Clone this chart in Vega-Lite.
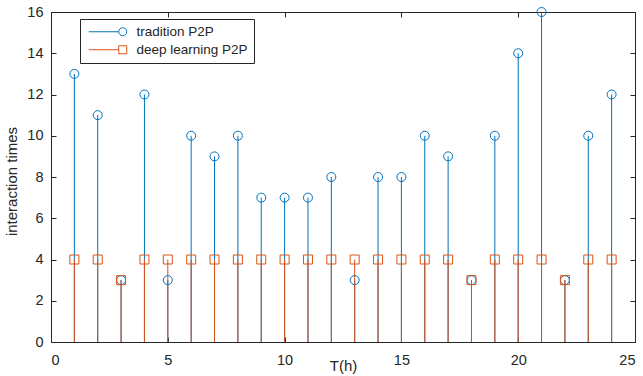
{
  "$schema": "https://vega.github.io/schema/vega-lite/v6.json",
  "width": 584,
  "height": 330,
  "autosize": {"type": "none"},
  "padding": {"left": 51, "top": 12, "right": 8, "bottom": 34},
  "background": "white",
  "config": {
    "view": {"stroke": "#262626", "strokeWidth": 1},
    "axis": {
      "grid": false,
      "domain": false,
      "offset": -5,
      "tickColor": "#262626",
      "tickSize": 5,
      "labelFont": "Liberation Sans",
      "labelFontSize": 14.5,
      "labelColor": "#262626",
      "titleFont": "Liberation Sans",
      "titleFontSize": 15,
      "titleFontWeight": "normal",
      "titleColor": "#262626"
    },
    "legend": {
      "labelFont": "Liberation Sans",
      "labelFontSize": 13.5,
      "labelColor": "#262626"
    }
  },
  "data": {
    "values": [
      {"t": 1, "series": "tradition P2P", "v": 13},
      {"t": 2, "series": "tradition P2P", "v": 11},
      {"t": 3, "series": "tradition P2P", "v": 3},
      {"t": 4, "series": "tradition P2P", "v": 12},
      {"t": 5, "series": "tradition P2P", "v": 3},
      {"t": 6, "series": "tradition P2P", "v": 10},
      {"t": 7, "series": "tradition P2P", "v": 9},
      {"t": 8, "series": "tradition P2P", "v": 10},
      {"t": 9, "series": "tradition P2P", "v": 7},
      {"t": 10, "series": "tradition P2P", "v": 7},
      {"t": 11, "series": "tradition P2P", "v": 7},
      {"t": 12, "series": "tradition P2P", "v": 8},
      {"t": 13, "series": "tradition P2P", "v": 3},
      {"t": 14, "series": "tradition P2P", "v": 8},
      {"t": 15, "series": "tradition P2P", "v": 8},
      {"t": 16, "series": "tradition P2P", "v": 10},
      {"t": 17, "series": "tradition P2P", "v": 9},
      {"t": 18, "series": "tradition P2P", "v": 3},
      {"t": 19, "series": "tradition P2P", "v": 10},
      {"t": 20, "series": "tradition P2P", "v": 14},
      {"t": 21, "series": "tradition P2P", "v": 16},
      {"t": 22, "series": "tradition P2P", "v": 3},
      {"t": 23, "series": "tradition P2P", "v": 10},
      {"t": 24, "series": "tradition P2P", "v": 12},
      {"t": 1, "series": "deep learning P2P", "v": 4},
      {"t": 2, "series": "deep learning P2P", "v": 4},
      {"t": 3, "series": "deep learning P2P", "v": 3},
      {"t": 4, "series": "deep learning P2P", "v": 4},
      {"t": 5, "series": "deep learning P2P", "v": 4},
      {"t": 6, "series": "deep learning P2P", "v": 4},
      {"t": 7, "series": "deep learning P2P", "v": 4},
      {"t": 8, "series": "deep learning P2P", "v": 4},
      {"t": 9, "series": "deep learning P2P", "v": 4},
      {"t": 10, "series": "deep learning P2P", "v": 4},
      {"t": 11, "series": "deep learning P2P", "v": 4},
      {"t": 12, "series": "deep learning P2P", "v": 4},
      {"t": 13, "series": "deep learning P2P", "v": 4},
      {"t": 14, "series": "deep learning P2P", "v": 4},
      {"t": 15, "series": "deep learning P2P", "v": 4},
      {"t": 16, "series": "deep learning P2P", "v": 4},
      {"t": 17, "series": "deep learning P2P", "v": 4},
      {"t": 18, "series": "deep learning P2P", "v": 3},
      {"t": 19, "series": "deep learning P2P", "v": 4},
      {"t": 20, "series": "deep learning P2P", "v": 4},
      {"t": 21, "series": "deep learning P2P", "v": 4},
      {"t": 22, "series": "deep learning P2P", "v": 3},
      {"t": 23, "series": "deep learning P2P", "v": 4},
      {"t": 24, "series": "deep learning P2P", "v": 4}
    ]
  },
  "layer": [
    {
      "mark": {"type": "rule", "strokeWidth": 1},
      "encoding": {
        "x": {
          "field": "t", "type": "quantitative",
          "scale": {"domain": [0, 25], "nice": false},
          "axis": {"orient": "bottom", "values": [0, 5, 10, 15, 20, 25], "title": "T(h)", "labelPadding": 11, "titleY": 21}
        },
        "y": {
          "field": "v", "type": "quantitative",
          "scale": {"domain": [0, 16], "nice": false},
          "axis": {"orient": "left", "values": [0, 2, 4, 6, 8, 10, 12, 14, 16], "title": "interaction times", "labelPadding": 8, "titlePadding": 7, "titleY": 169}
        },
        "y2": {"datum": 0},
        "color": {
          "field": "series", "type": "nominal",
          "scale": {"domain": ["tradition P2P", "deep learning P2P"], "range": ["#0072BD", "#D95319"]},
          "legend": {
            "title": null,
            "orient": "none",
            "legendX": 29,
            "legendY": 7,
            "padding": 6,
            "strokeColor": "#262626",
            "fillColor": "white",
            "symbolSize": 64,
            "symbolStrokeWidth": 1,
            "symbolFillColor": "transparent",
            "labelOffset": 37,
            "rowPadding": 3,
            "encode": {
              "symbols": {
                "update": {
                  "shape": {"signal": "datum.value == 'tradition P2P' ? 'M-1,0H6.5M8.5,0A1,1 0 1,1 6.5,0A1,1 0 1,1 8.5,0' : 'M-1,0H6.5M6.5,-1H8.5V1H6.5Z'"}
                }
              }
            }
          }
        }
      }
    },
    {
      "transform": [{"filter": "datum.series == 'tradition P2P'"}],
      "mark": {"type": "point", "shape": "circle", "filled": false, "strokeWidth": 1, "size": 81, "opacity": 1},
      "encoding": {
        "x": {
          "field": "t", "type": "quantitative",
          "axis": {"orient": "top", "values": [0, 5, 10, 15, 20, 25], "labels": false, "title": null}
        },
        "y": {
          "field": "v", "type": "quantitative",
          "axis": {"orient": "right", "values": [0, 2, 4, 6, 8, 10, 12, 14, 16], "labels": false, "title": null}
        },
        "color": {"field": "series", "type": "nominal"}
      }
    },
    {
      "transform": [{"filter": "datum.series == 'deep learning P2P'"}],
      "mark": {"type": "point", "shape": "square", "filled": false, "strokeWidth": 1, "size": 81, "opacity": 1},
      "encoding": {
        "x": {"field": "t", "type": "quantitative", "axis": null},
        "y": {"field": "v", "type": "quantitative", "axis": null},
        "color": {"field": "series", "type": "nominal"}
      }
    }
  ],
  "resolve": {"axis": {"x": "independent", "y": "independent"}}
}
